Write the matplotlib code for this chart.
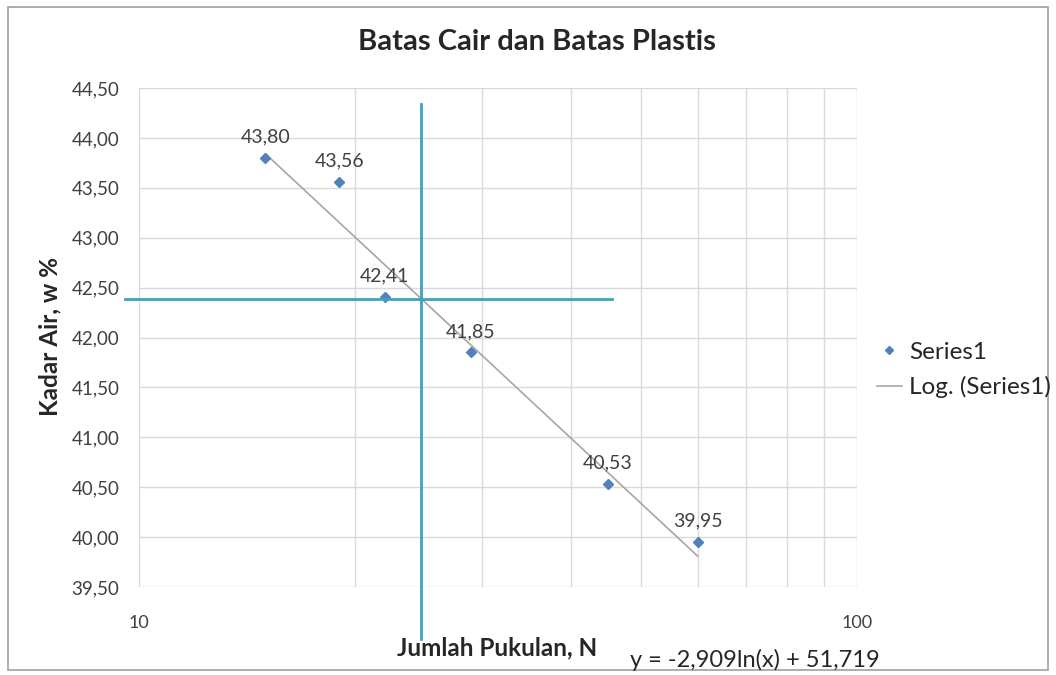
import numpy as np
import matplotlib
matplotlib.use("Agg")
import matplotlib.pyplot as plt
from matplotlib.patches import Rectangle
from matplotlib.lines import Line2D
from matplotlib.ticker import FixedLocator, NullFormatter, FuncFormatter

plt.rcParams['font.family'] = ['Lato', 'DejaVu Sans']

# Data
blows = [15, 19, 22, 29, 45, 60]
water = [43.80, 43.56, 42.41, 41.85, 40.53, 39.95]
coef_a = -2.909
coef_b = 51.719
ll_blows = 24.7
ll_water = 42.39
h_line_x = [9.56, 45.6]
v_line_y = [38.98, 44.34]
title = "Batas Cair dan Batas Plastis"
xlabel = "Jumlah Pukulan, N"
ylabel = "Kadar Air, w %"
equation = "y = -2,909ln(x) + 51,719"

fig = plt.figure(figsize=(10.56, 6.75), dpi=100)
ax = fig.add_axes([0.1316, 0.1304, 0.68, 0.7392])

ax.set_xscale('log')
ax.set_xlim(10, 100)
ax.set_ylim(39.5, 44.5)

ax.xaxis.set_major_locator(FixedLocator([10, 100]))
ax.xaxis.set_minor_locator(FixedLocator(list(range(20, 100, 10))))
ax.xaxis.set_major_formatter(FuncFormatter(lambda v, p: f"{v:.0f}"))
ax.xaxis.set_minor_formatter(NullFormatter())
ax.set_yticks(np.arange(39.5, 44.51, 0.5))
ax.yaxis.set_major_formatter(FuncFormatter(lambda v, p: f"{v:.2f}".replace('.', ',')))

ax.grid(True, which='both', color='#d9d9d9', lw=1.0)
ax.set_axisbelow(True)
for s in ax.spines.values():
    s.set_visible(False)
ax.tick_params(axis='x', which='major', length=0, pad=20, labelsize=13, colors='#404040')
ax.tick_params(axis='x', which='minor', length=0)
ax.tick_params(axis='y', length=0, pad=14, labelsize=13.5, colors='#404040')

# trendline
xt = np.linspace(min(blows), max(blows), 200)
ax.plot(xt, coef_a * np.log(xt) + coef_b, color='#a6a6a6', lw=1.2, zorder=3)

# data
ax.plot(blows, water, linestyle='none', marker='D', ms=5.5, color='#4f81bd', zorder=4)
for x, y in zip(blows, water):
    ax.annotate(f"{y:.2f}".replace('.', ','), (x, y), xytext=(0, 9), textcoords='offset points',
                ha='center', va='bottom', fontsize=14, color='#404040')

# liquid limit guide lines
ax.plot(h_line_x, [ll_water, ll_water], color='#3fa3c0', lw=2, clip_on=False, zorder=5)
ax.plot([ll_blows, ll_blows], v_line_y, color='#3fa3c0', lw=2, clip_on=False, zorder=5)

fig.text(0.508, 0.938, title, ha='center', va='center', fontsize=21, fontweight='bold', color='#262626')
fig.text(0.471, 0.04, xlabel, ha='center', va='center', fontsize=17.5, fontweight='bold', color='#262626')
fig.text(0.047, 0.502, ylabel, ha='center', va='center', rotation=90, fontsize=17.5, fontweight='bold', color='#262626')
fig.text(0.715, 0.022, equation, ha='center', va='center', fontsize=17, color='#262626')

# legend
handles = [Line2D([], [], linestyle='none', marker='D', ms=4, color='#4f81bd'),
           Line2D([], [], color='#a6a6a6', lw=1.2)]
leg = fig.legend(handles, ['Series1', 'Log. (Series1)'], loc='center left',
                 bbox_to_anchor=(0.81, 0.452), frameon=False, fontsize=17.5,
                 handlelength=1.0, handletextpad=0.3, labelspacing=0.55)
for t in leg.get_texts():
    t.set_color('#262626')

fig.patches.append(Rectangle((0.008, 0.007), 0.984, 0.983, transform=fig.transFigure,
                             fill=False, edgecolor='#a0a0a0', lw=1.2))

fig.savefig('out.png', dpi=100)
